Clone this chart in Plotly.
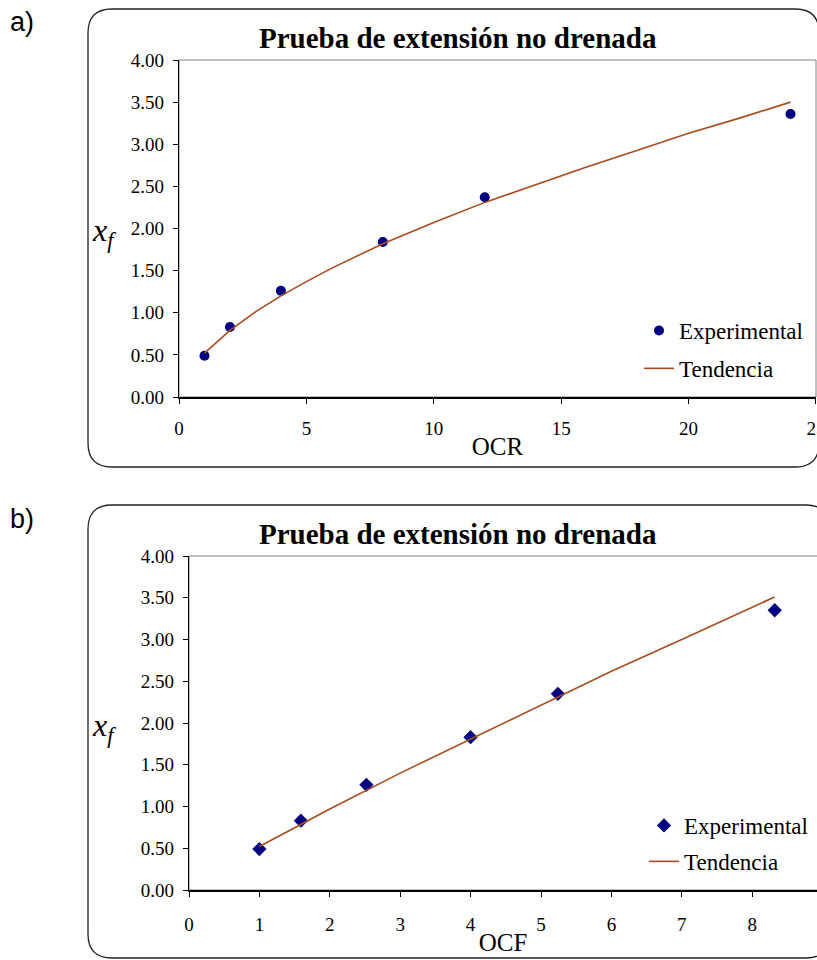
import plotly.graph_objects as go

W, H = 817, 960

# ---------------- data ----------------
title_text = "Prueba de extensión no drenada"

ocr_exp = [1, 2, 4, 8, 12, 24]
xf_exp_a = [0.49, 0.83, 1.26, 1.84, 2.37, 3.36]
ocr_trend = [1, 2, 3, 4, 5, 6, 8, 10, 12, 14, 16, 18, 20, 22, 24]
xf_trend_a = [0.52, 0.79, 1.01, 1.20, 1.37, 1.53, 1.82, 2.07, 2.31, 2.52, 2.73, 2.93, 3.13, 3.31, 3.50]

ocf_exp = [1.0, 1.59, 2.52, 4.0, 5.24, 8.32]
xf_exp_b = [0.49, 0.83, 1.26, 1.83, 2.35, 3.35]
ocf_trend = [1, 2, 3, 4, 5, 6, 7, 8, 8.32]
xf_trend_b = [0.52, 0.97, 1.40, 1.81, 2.22, 2.62, 3.00, 3.39, 3.51]

y_ticks = [0, 0.5, 1.0, 1.5, 2.0, 2.5, 3.0, 3.5, 4.0]
x_ticks_a = [0, 5, 10, 15, 20, 25]
x_ticks_b = [0, 1, 2, 3, 4, 5, 6, 7, 8, 9]

NAVY = "#000080"
TREND = "#A84B1E"
SERIF = "Liberation Serif, Times New Roman, serif"
SANS = "Liberation Sans, Arial, sans-serif"


def px(x):
    return x / W


def py(y):
    return 1 - y / H


fig = go.Figure()

fig.add_trace(go.Scatter(x=ocr_exp, y=xf_exp_a, mode="markers", name="Experimental",
                         marker=dict(symbol="circle", size=10, color=NAVY),
                         xaxis="x", yaxis="y", legend="legend", legendgroup="a1"))
fig.add_trace(go.Scatter(x=ocr_trend, y=xf_trend_a, mode="lines", name="Tendencia",
                         line=dict(color=TREND, width=1.6),
                         xaxis="x", yaxis="y", legend="legend", legendgroup="a2"))
fig.add_trace(go.Scatter(x=ocf_exp, y=xf_exp_b, mode="markers", name="Experimental",
                         marker=dict(symbol="diamond", size=11, color=NAVY),
                         xaxis="x2", yaxis="y2", legend="legend2", legendgroup="b1"))
fig.add_trace(go.Scatter(x=ocf_trend, y=xf_trend_b, mode="lines", name="Tendencia",
                         line=dict(color=TREND, width=1.6),
                         xaxis="x2", yaxis="y2", legend="legend2", legendgroup="b2"))

axis_common = dict(showgrid=False, zeroline=False, showline=True, linecolor="black",
                   ticks="outside", ticklen=5, tickcolor="black", automargin=False,
                   ticklabeloverflow="allow",
                   tickfont=dict(family=SERIF, size=19, color="black"))

fig.update_layout(
    width=W, height=H, margin=dict(l=0, r=0, t=0, b=0, pad=0, autoexpand=False),
    paper_bgcolor="white", plot_bgcolor="white",
    showlegend=True,
    xaxis=dict(domain=[px(179), px(816)], range=[0, 25.001], tickvals=x_ticks_a,
               anchor="y", linewidth=1.5, ticklabelstandoff=8,
               title=dict(text="OCR", font=dict(family=SERIF, size=25, color="black"), standoff=0),
               **axis_common),
    yaxis=dict(domain=[py(397), py(60)], range=[0, 4], tickvals=y_ticks, tickformat=".2f",
               anchor="x", linewidth=1.3, ticklabelstandoff=5, **axis_common),
    xaxis2=dict(domain=[px(189), 1], range=[0, (W - 189) / 70.4], tickvals=x_ticks_b,
                anchor="y2", linewidth=2, ticklabelstandoff=11,
                title=dict(text="OCF", font=dict(family=SERIF, size=25, color="black"), standoff=0),
                **axis_common),
    yaxis2=dict(domain=[py(890), py(556)], range=[0, 4], tickvals=y_ticks, tickformat=".2f",
                anchor="x2", linewidth=1.3, ticklabelstandoff=5, **axis_common),
    legend=dict(x=px(639), y=py(309), xanchor="left", yanchor="top",
                traceorder="grouped", tracegroupgap=5, bgcolor="rgba(0,0,0,0)",
                font=dict(family=SERIF, size=23, color="black")),
    legend2=dict(x=px(644), y=py(804), xanchor="left", yanchor="top",
                 traceorder="grouped", tracegroupgap=3, bgcolor="rgba(0,0,0,0)",
                 font=dict(family=SERIF, size=23, color="black")),
)


def rounded_rect(x0, y0, x1, y1, r):
    p = [
        f"M {px(x0 + r)},{py(y0)}",
        f"L {px(x1 - r)},{py(y0)}",
        f"Q {px(x1)},{py(y0)} {px(x1)},{py(y0 + r)}",
        f"L {px(x1)},{py(y1 - r)}",
        f"Q {px(x1)},{py(y1)} {px(x1 - r)},{py(y1)}",
        f"L {px(x0 + r)},{py(y1)}",
        f"Q {px(x0)},{py(y1)} {px(x0)},{py(y1 - r)}",
        f"L {px(x0)},{py(y0 + r)}",
        f"Q {px(x0)},{py(y0)} {px(x0 + r)},{py(y0)}",
        "Z",
    ]
    return " ".join(p)


shapes = [
    dict(type="path", path=rounded_rect(88, 9, 819, 467, 24), xref="paper", yref="paper",
         line=dict(color="#222222", width=1.3), layer="below"),
    dict(type="path", path=rounded_rect(88, 505, 830, 958, 24), xref="paper", yref="paper",
         line=dict(color="#222222", width=1.3), layer="below"),
    dict(type="rect", xref="x domain", yref="y domain", x0=0, x1=1, y0=0, y1=1,
         line=dict(color="#808080", width=1), layer="below"),
    dict(type="rect", xref="x2 domain", yref="y2 domain", x0=0, x1=1.05, y0=0, y1=1,
         line=dict(color="#808080", width=1), layer="below"),
]
fig.update_layout(shapes=shapes)

annotations = [
    dict(text="a)", x=px(8), y=py(22), xanchor="left", yanchor="middle",
         font=dict(family=SANS, size=27, color="black")),
    dict(text="b)", x=px(8), y=py(519), xanchor="left", yanchor="middle",
         font=dict(family=SANS, size=27, color="black")),
    dict(text="<b>" + title_text + "</b>", x=px(458), y=py(38), xanchor="center", yanchor="middle",
         font=dict(family=SERIF, size=29, color="black")),
    dict(text="<b>" + title_text + "</b>", x=px(458), y=py(534), xanchor="center", yanchor="middle",
         font=dict(family=SERIF, size=29, color="black")),
    dict(text="<i>x<sub>f</sub></i>", x=px(104), y=py(232), xanchor="center", yanchor="middle",
         font=dict(family=SERIF, size=32, color="black")),
    dict(text="<i>x<sub>f</sub></i>", x=px(104), y=py(727), xanchor="center", yanchor="middle",
         font=dict(family=SERIF, size=32, color="black")),
]
for a in annotations:
    a.update(xref="paper", yref="paper", showarrow=False)
fig.update_layout(annotations=annotations)

fig.write_html("out.html", config={"displayModeBar": False},
               post_script="document.body.style.margin='0';document.body.style.overflow='hidden';")
